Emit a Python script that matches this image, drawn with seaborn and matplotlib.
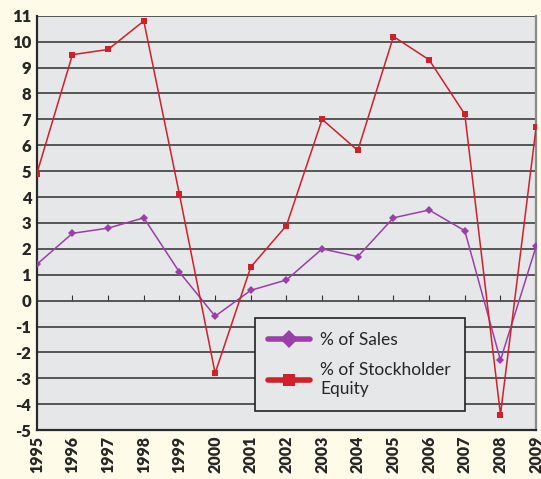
import pandas as pd
import matplotlib.pyplot as plt
import seaborn as sns

years = list(range(1995, 2010))
sales = [1.4, 2.6, 2.8, 3.2, 1.1, -0.6, 0.4, 0.8, 2.0, 1.7, 3.2, 3.5, 2.7, -2.3, 2.1]
equity = [4.9, 9.5, 9.7, 10.8, 4.1, -2.8, 1.3, 2.9, 7.0, 5.8, 10.2, 9.3, 7.2, -4.4, 6.7]
yticks = list(range(-5, 12))

df = pd.DataFrame({'year': years, '% of Sales': sales, '% of Stockholder\nEquity': equity})
df = df.melt(id_vars='year', var_name='series', value_name='value')

sns.set_style('white')
plt.rcParams['font.family'] = ['Lato', 'DejaVu Sans']

fig = plt.figure(figsize=(5.41, 4.79), dpi=100, facecolor='#FFFBE9')
ax = fig.add_axes([0.068, 0.102, 0.923, 0.865])
ax.set_facecolor('#E6E7E9')

palette = {'% of Sales': '#9B3FA8', '% of Stockholder\nEquity': '#D0202A'}
markers = {'% of Sales': 'D', '% of Stockholder\nEquity': 's'}
sns.lineplot(data=df, x='year', y='value', hue='series', style='series',
             palette=palette, markers=markers, dashes=False, lw=1.1,
             markersize=4.5, markeredgewidth=0, ax=ax, zorder=3)

for y in yticks:
    ax.axhline(y, color='#4A4A4A', lw=1.3, zorder=1)

ax.set_xlim(1995, 2009)
ax.set_ylim(-5, 11)
ax.set_yticks(yticks)
ax.set_yticklabels([str(v) for v in yticks], fontsize=12, fontweight='heavy')
ax.set_xticks(years)
ax.set_xticklabels([str(v) for v in years], rotation=90, fontsize=11.5, fontweight='heavy')
ax.tick_params(axis='both', length=0, pad=4)
ax.set_xlabel('')
ax.set_ylabel('')

for s in ['left', 'bottom']:
    ax.spines[s].set_color('#2A2A2A')
    ax.spines[s].set_linewidth(1.6)
ax.spines['top'].set_visible(False)
ax.spines['right'].set_color('#8A8A8A')
ax.spines['right'].set_linewidth(1.6)

# small tick marks along the zero line
sec = ax.secondary_xaxis(5 / 16)
sec.set_xticks(years)
sec.set_xticklabels([])
sec.tick_params(direction='in', length=4, color='#333333')
sec.spines['bottom'].set_visible(False)
sec.spines['top'].set_visible(False)

leg = ax.legend(loc='upper left', bbox_to_anchor=(0.436, 0.27), fontsize=12.5,
                frameon=True, fancybox=False, handlelength=2.4, handletextpad=0.6,
                labelspacing=0.8, borderpad=0.8, borderaxespad=0)
leg.get_frame().set_edgecolor('#222222')
leg.get_frame().set_facecolor('#E6E7E9')
leg.get_frame().set_alpha(1)
leg.get_frame().set_linewidth(1.2)
leg.set_zorder(5)
for line in leg.get_lines():
    line.set_linewidth(4)
    line.set_markersize(9)

fig.savefig('out.png', dpi=100, facecolor=fig.get_facecolor())
